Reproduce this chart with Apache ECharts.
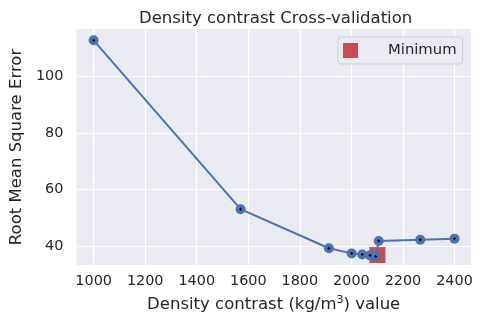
<!DOCTYPE html>
<html>
<head>
<meta charset="utf-8">
<script src="https://cdn.jsdelivr.net/npm/echarts@6/dist/echarts.min.js"></script>
<style>html,body{margin:0;padding:0;background:#fff;}#c{width:483px;height:333px;}</style>
</head>
<body>
<div id="c"></div>
<script>
const densities = [1000, 1570, 1913, 2001, 2042, 2072, 2094, 2106, 2267, 2400];
const rmse = [112.7, 53.1, 39.3, 37.5, 37.1, 36.8, 36.4, 41.9, 42.3, 42.7];
const minimumPoint = [2101, 36.9];
const xTicks = [1000, 1200, 1400, 1600, 1800, 2000, 2200, 2400];
const yTicks = [40, 60, 80, 100];

const FONT = 'DejaVu Sans';
const TXT = '#262626';
const chart = echarts.init(document.getElementById('c'), null, {renderer: 'canvas'});
const linePts = densities.map((d, i) => [d, rmse[i]]);
const plusPath = 'path://M-1,0L1,0M0,-1L0,1';

chart.setOption({
  animation: false,
  backgroundColor: '#ffffff',
  textStyle: {fontFamily: FONT, color: TXT},
  title: {
    text: 'Density contrast Cross-validation',
    left: 134, top: 5,
    textStyle: {fontFamily: FONT, fontSize: 16.5, fontWeight: 'normal', color: TXT}
  },
  grid: {left: 74, right: 12, top: 29, bottom: 68, show: true, backgroundColor: '#EAEAF2', borderWidth: 0},
  legend: {
    data: [{name: 'Minimum', icon: 'path://M0,0L1,0L1,1L0,1Z', itemStyle: {color: '#C44E52', opacity: 1}}],
    left: 338, top: 37,
    padding: [6, 6, 6, 5],
    itemWidth: 35, itemHeight: 15,
    backgroundColor: '#EAEAF2',
    borderColor: '#CCCCD4', borderWidth: 1, borderRadius: 3,
    textStyle: {fontFamily: FONT, fontSize: 14.8, color: TXT, padding: [0, 0, 0, 15]}
  },
  xAxis: {
    type: 'value', min: 933, max: 2464,
    name: 'Density contrast (kg/m{sup|3}) value',
    nameLocation: 'middle', nameGap: 30,
    nameTextStyle: {fontFamily: FONT, fontSize: 16.5, color: TXT,
      rich: {sup: {fontFamily: FONT, fontSize: 11, color: TXT, verticalAlign: 'top', padding: [0, 0, 8, 0]}}},
    axisLine: {show: false}, axisTick: {show: false, customValues: xTicks},
    axisLabel: {customValues: xTicks, formatter: v => String(v), fontFamily: FONT, fontSize: 14.4, color: TXT, margin: 9},
    splitLine: {show: true, lineStyle: {color: '#ffffff', width: 1.2}}
  },
  yAxis: {
    type: 'value', min: 33.4, max: 116.7,
    name: 'Root Mean Square Error',
    nameLocation: 'middle', nameGap: 50,
    nameTextStyle: {fontFamily: FONT, fontSize: 16.5, color: TXT},
    axisLine: {show: false}, axisTick: {show: false, customValues: yTicks},
    axisLabel: {customValues: yTicks, formatter: v => String(v), fontFamily: FONT, fontSize: 14.4, color: TXT, margin: 13},
    splitLine: {show: true, lineStyle: {color: '#ffffff', width: 1.2}}
  },
  series: [
    {
      name: 'Minimum', type: 'scatter', data: [minimumPoint],
      symbol: 'rect', symbolSize: 16,
      itemStyle: {color: '#C44E52', opacity: 1}, z: 2
    },
    {
      name: 'rmse', type: 'line', data: linePts,
      symbol: 'circle', symbolSize: 10, showSymbol: true,
      lineStyle: {color: '#4C72B0', width: 2},
      itemStyle: {color: '#4C72B0', borderWidth: 0, opacity: 1}, z: 3
    },
    {
      name: 'plus', type: 'scatter', data: linePts,
      symbol: plusPath, symbolSize: 3,
      itemStyle: {color: 'none', borderColor: '#000', borderWidth: 1, opacity: 1}, z: 4
    }
  ]
});
</script>
</body>
</html>
